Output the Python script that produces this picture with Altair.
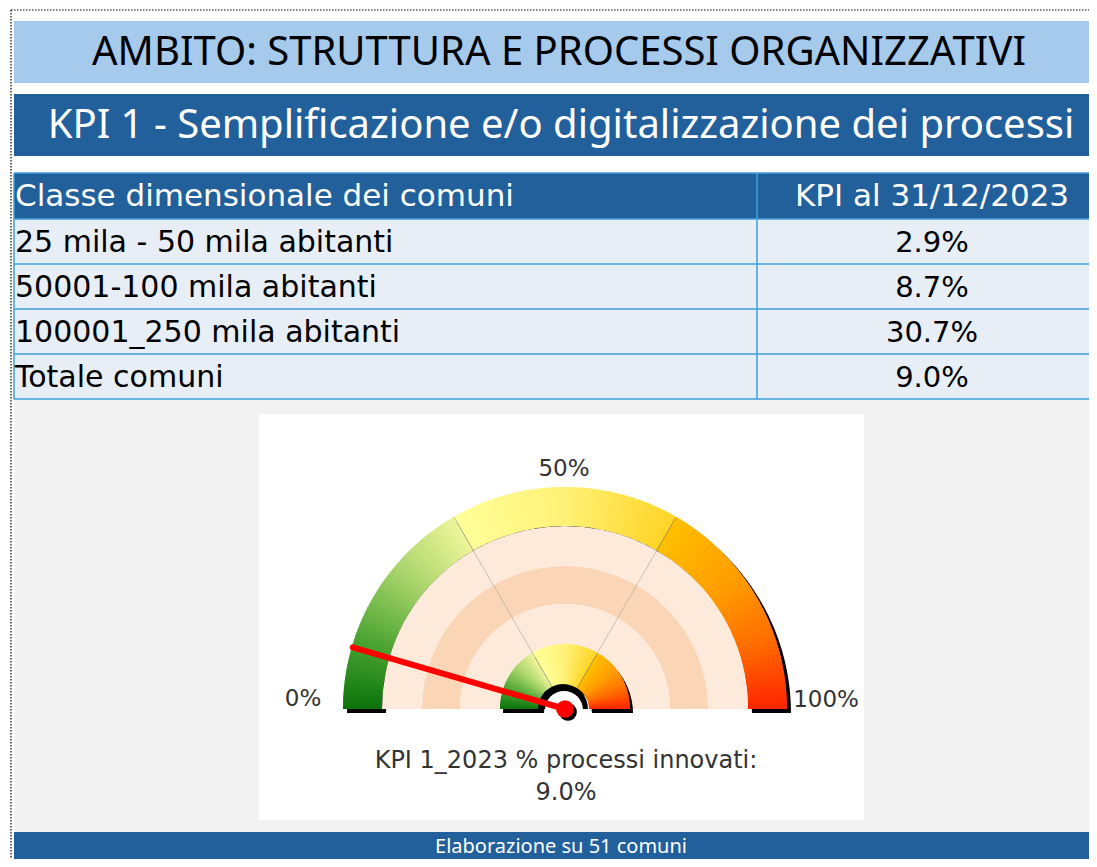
import math
import altair as alt
import numpy as np
import pandas as pd

# ---------------- data ----------------
main_title = "AMBITO: STRUTTURA E PROCESSI ORGANIZZATIVI"
kpi_title = "KPI 1 - Semplificazione e/o digitalizzazione dei processi"
column_headers = ["Classe dimensionale dei comuni", "KPI al 31/12/2023"]
size_classes = ["25 mila - 50 mila abitanti", "50001-100 mila abitanti",
                "100001_250 mila abitanti", "Totale comuni"]
kpi_values = [2.9, 8.7, 30.7, 9.0]
gauge_value = 9.0
gauge_tick_labels = ["0%", "50%", "100%"]
zone_limits = [0, 33.3, 66.7, 100]
caption_lines = ["KPI 1_2023 % processi innovati:", "9.0%"]
footer_text = "Elaborazione su 51 comuni"

# ---------------- layout (page pixels) ----------------
LEFT, RIGHT = 14, 1089
COL_SPLIT = 757
VALUE_X = 932
TABLE_TOP, HEAD_BOTTOM, ROW_H = 173, 219, 45
TABLE_BOTTOM = HEAD_BOTTOM + ROW_H * len(size_classes)
CX, CY = 565, 709
R_OUT, R_BAND = 222, 183
R_PEACH = [(143, 183, "#FDEADB"), (105, 143, "#FBD6B6"), (65, 105, "#FDEADB")]
R_IN_OUT, R_IN_IN = 65, 24
R_NEEDLE = 221

XS = alt.Scale(domain=[8, 1089], nice=False, zero=False)
YS = alt.Scale(domain=[8, 859], nice=False, zero=False, reverse=True)
TS = alt.Scale(domain=[0, 100], range=[1.5 * math.pi, 2.5 * math.pi])
stops_t = [0, 10, 22, 33.3, 33.31, 50, 66.7, 66.71, 80, 90, 100]
stops_c = ["#0B740B", "#48A230", "#A8D46A", "#EEF59A", "#FFFF99", "#FFF176",
           "#FFD426", "#FFC000", "#FF9A00", "#FF6A00", "#FF2400"]
CS = alt.Scale(domain=stops_t, range=stops_c, interpolate="rgb")


def X(f):
    return alt.X(f, type="quantitative", scale=XS, axis=None)


def Y(f):
    return alt.Y(f, type="quantitative", scale=YS, axis=None)


layers = []

# ---- background boxes ----
boxes = pd.DataFrame([
    dict(x=LEFT, x2=RIGHT, y=TABLE_BOTTOM, y2=832, fill="#F2F2F2"),
    dict(x=259, x2=864, y=414, y2=820, fill="#FFFFFF"),
    dict(x=LEFT, x2=RIGHT, y=21, y2=83, fill="#A6CAEC"),
    dict(x=LEFT, x2=RIGHT, y=94, y2=156, fill="#22609C"),
    dict(x=LEFT, x2=RIGHT, y=TABLE_TOP, y2=HEAD_BOTTOM, fill="#22609C"),
    dict(x=LEFT, x2=RIGHT, y=HEAD_BOTTOM, y2=TABLE_BOTTOM, fill="#E7EEF6"),
    dict(x=LEFT, x2=RIGHT, y=832, y2=860, fill="#22609C"),
])
layers.append(alt.Chart(boxes).mark_rect().encode(
    x=X("x"), x2="x2", y=Y("y"), y2="y2", fill=alt.Fill("fill:N", scale=None)))

# ---- dotted frame ----
frame = pd.DataFrame([dict(x=11, x2=RIGHT, y=10, y2=10), dict(x=11, x2=11, y=10, y2=859)])
layers.append(alt.Chart(frame).mark_rule(color="#000000", strokeWidth=1.2, strokeDash=[1.5, 1.5]).encode(
    x=X("x"), x2="x2", y=Y("y"), y2="y2"))

# ---- table grid ----
hl = [TABLE_TOP] + [HEAD_BOTTOM + ROW_H * i for i in range(len(size_classes) + 1)]
grid = pd.DataFrame([dict(x=LEFT, x2=RIGHT, y=v, y2=v) for v in hl] +
                    [dict(x=LEFT, x2=LEFT, y=TABLE_TOP, y2=TABLE_BOTTOM),
                     dict(x=COL_SPLIT, x2=COL_SPLIT, y=TABLE_TOP, y2=TABLE_BOTTOM)])
layers.append(alt.Chart(grid).mark_rule(color="#3E9FDA", strokeWidth=1.5).encode(
    x=X("x"), x2="x2", y=Y("y"), y2="y2"))


def texts(df, size, color, font, align="center"):
    return alt.Chart(df).mark_text(size=size, color=color, font=font, align=align,
                                   baseline="middle").encode(
        x=X("x"), y=Y("y"), text="label:N")


# ---- headers ----
layers.append(texts(pd.DataFrame([dict(x=559, y=53, label=main_title)]), 40, "#000000", "Noto Sans"))
layers.append(texts(pd.DataFrame([dict(x=561, y=126, label=kpi_title)]), 40, "#FFFFFF", "Noto Sans"))
layers.append(texts(pd.DataFrame([dict(x=15, y=197, label=column_headers[0])]), 31, "#FFFFFF",
                    "DejaVu Sans", "left"))
layers.append(texts(pd.DataFrame([dict(x=VALUE_X, y=197, label=column_headers[1])]), 31, "#FFFFFF",
                    "DejaVu Sans"))
rows = pd.DataFrame({"label": size_classes,
                     "y": [HEAD_BOTTOM + ROW_H * i + ROW_H / 2 + 1 for i in range(len(size_classes))]})
rows["x"] = 15
layers.append(texts(rows, 30, "#000000", "DejaVu Sans", "left"))
vals = pd.DataFrame({"label": [f"{v:.1f}%" for v in kpi_values], "y": rows["y"]})
vals["x"] = VALUE_X
layers.append(texts(vals, 29, "#000000", "DejaVu Sans"))
layers.append(texts(pd.DataFrame([dict(x=561, y=847, label=footer_text)]), 20, "#FFFFFF", "Noto Sans"))

# ---- gauge ----
def gradient_slices(cx, cy, n):
    recs = []
    for a, b in zip(zone_limits[:-1], zone_limits[1:]):
        edges = np.linspace(a, b, n + 1)
        step = (b - a) / n
        for s0, s1 in zip(edges[:-1], edges[1:]):
            recs.append(dict(t0=s0, t1=min(s1 + 0.5 * step, b), tm=(s0 + s1) / 2, cx=cx, cy=cy))
    return pd.DataFrame(recs)


def solid_arc(cx, cy, r_out, r_in, color):
    df = pd.DataFrame([dict(t0=0, t1=100, cx=cx, cy=cy)])
    return alt.Chart(df).mark_arc(radius=r_out, radius2=r_in, color=color).encode(
        x=X("cx"), y=Y("cy"),
        theta=alt.Theta("t0:Q", scale=TS, stack=False), theta2="t1:Q")


def gradient_arc(r_out, r_in, n):
    return alt.Chart(gradient_slices(CX, CY, n)).mark_arc(radius=r_out, radius2=r_in).encode(
        x=X("cx"), y=Y("cy"),
        theta=alt.Theta("t0:Q", scale=TS, stack=False), theta2="t1:Q",
        color=alt.Color("tm:Q", scale=CS, legend=None))


layers.append(solid_arc(CX + 4, CY + 4, R_OUT, R_BAND, "#000000"))
layers.append(gradient_arc(R_OUT, R_BAND, 60))
for r_in, r_out, col in R_PEACH:
    layers.append(solid_arc(CX, CY, r_out, r_in, col))
layers.append(solid_arc(CX + 3, CY + 4, R_IN_OUT, R_IN_IN, "#000000"))
layers.append(gradient_arc(R_IN_OUT, R_IN_IN, 18))

dividers = alt.Chart(pd.DataFrame({"v": zone_limits[1:-1]})).transform_calculate(
    xa=f"{CX} - {R_IN_IN}*cos(datum.v/100*PI)", ya=f"{CY} - {R_IN_IN}*sin(datum.v/100*PI)",
    xb=f"{CX} - {R_OUT}*cos(datum.v/100*PI)", yb=f"{CY} - {R_OUT}*sin(datum.v/100*PI)",
).mark_rule(color="#8A8A8A", strokeWidth=1, opacity=0.45).encode(
    x=X("xa:Q"), y=Y("ya:Q"), x2="xb:Q", y2="yb:Q")
layers.append(dividers)

layers.append(solid_arc(CX - 2, CY, 25, 0, "#000000"))
layers.append(solid_arc(CX - 1, CY + 1, 19, 0, "#FFFFFF"))

needle = alt.Chart(pd.DataFrame({"v": [gauge_value]})).transform_calculate(
    xa=f"{CX}", ya=f"{CY}",
    xb=f"{CX} - {R_NEEDLE}*cos(datum.v/100*PI)", yb=f"{CY} - {R_NEEDLE}*sin(datum.v/100*PI)",
).mark_rule(color="#FF0000", strokeWidth=6, strokeCap="round").encode(
    x=X("xa:Q"), y=Y("ya:Q"), x2="xb:Q", y2="yb:Q")
layers.append(needle)
layers.append(alt.Chart(pd.DataFrame([dict(x=CX + 3, y=CY + 3)])).mark_circle(
    size=314, color="#000000", opacity=1).encode(x=X("x"), y=Y("y")))
layers.append(alt.Chart(pd.DataFrame([dict(x=CX, y=CY)])).mark_circle(
    size=314, color="#FF0000", opacity=1).encode(x=X("x"), y=Y("y")))

tick_pos = [(303, 699), (564, 469), (826, 700)]
ticks = pd.DataFrame({"label": gauge_tick_labels,
                      "x": [p[0] for p in tick_pos], "y": [p[1] for p in tick_pos]})
layers.append(texts(ticks, 23, "#333333", "DejaVu Sans"))
cap = pd.DataFrame({"label": caption_lines, "x": [566, 566], "y": [761, 793]})
layers.append(texts(cap, 24, "#333333", "DejaVu Sans"))

chart = alt.layer(*layers).resolve_scale(color="independent", fill="independent").properties(
    width=1081, height=851, padding=0, autosize="none", background="#FFFFFF"
).configure_view(stroke=None)

chart.save("out.html", embed_options={"renderer": "svg", "actions": False})
